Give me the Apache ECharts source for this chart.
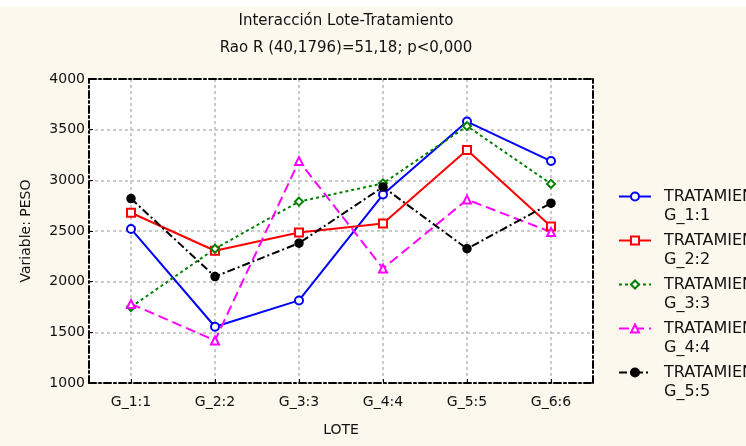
<!DOCTYPE html>
<html>
<head>
<meta charset="utf-8">
<script src="https://cdn.jsdelivr.net/npm/echarts@6/dist/echarts.min.js"></script>
<style>
html,body{margin:0;padding:0;background:#ffffff;}
#c{position:absolute;left:0;top:0;width:746px;height:446px;}
</style>
</head>
<body>
<div id="c"></div>
<script>
const categories = ['G_1:1','G_2:2','G_3:3','G_4:4','G_5:5','G_6:6'];
const seriesNames = ['TRATAMIENTO\nG_1:1','TRATAMIENTO\nG_2:2','TRATAMIENTO\nG_3:3','TRATAMIENTO\nG_4:4','TRATAMIENTO\nG_5:5'];
const g1 = [2520, 1555, 1815, 2860, 3580, 3190];
const g2 = [2680, 2305, 2485, 2575, 3300, 2545];
const g3 = [1750, 2325, 2790, 2970, 3535, 2965];
const g4 = [1780, 1420, 3190, 2130, 2810, 2490];
const g5 = [2820, 2050, 2380, 2935, 2325, 2775];
const yMin = 1000, yMax = 4000, yStep = 500;

const FONT = 'DejaVu Sans';
const frameStyle = {color:'#000', width:2, type:[7,3,2,3]};
const styles = [
  {color:'#0000ff', type:'solid', symbol:'emptyCircle'},
  {color:'#ff0000', type:'solid', symbol:'emptyRect'},
  {color:'#008000', type:[3,3], symbol:'emptyDiamond'},
  {color:'#ff00ff', type:[10,5], symbol:'emptyTriangle'},
  {color:'#000000', type:[8,3,2,3], symbol:'circle'}
];
const data = [g1,g2,g3,g4,g5];

const chart = echarts.init(document.getElementById('c'), null, {renderer:'canvas'});
chart.setOption({
  backgroundColor:'#fdf8ee',
  animation:false,
  graphic:[{type:'rect', left:0, top:0, shape:{width:746, height:7}, style:{fill:'#ffffff'}, z:-1}],
  title:{
    text:'Interacción Lote-Tratamiento\nRao R (40,1796)=51,18; p<0,000',
    left:341, top:3, textAlign:'center',
    textStyle:{fontFamily:FONT, fontSize:15, fontWeight:'normal', color:'#111', lineHeight:27}
  },
  grid:{left:89, right:153, top:79, bottom:63, show:true, backgroundColor:'#ffffff', borderWidth:0},
  legend:{
    orient:'vertical', left:618, top:168, padding:0, itemWidth:32, itemHeight:10, itemGap:-13,
    data:seriesNames,
    formatter:(name)=>' \n'+name,
    textStyle:{fontFamily:FONT, fontSize:16, color:'#111', lineHeight:19, padding:[0,0,0,8]}
  },
  xAxis:[{
    type:'category', data:categories, boundaryGap:true,
    name:'LOTE', nameLocation:'middle', nameGap:40,
    nameTextStyle:{fontFamily:FONT, fontSize:14, color:'#111'},
    axisLine:{lineStyle:frameStyle},
    axisTick:{show:true, alignWithLabel:true, length:-4, lineStyle:{color:'#000'}},
    axisLabel:{fontFamily:FONT, fontSize:14, color:'#111', margin:12},
    splitLine:{show:true, alignWithLabel:true, lineStyle:{color:'#bbbbbb', type:[3,3], width:1.5}}
  },{
    type:'category', data:categories, position:'top',
    axisLine:{lineStyle:frameStyle}, axisTick:{show:false}, axisLabel:{show:false}, splitLine:{show:false}
  }],
  yAxis:[{
    type:'value', min:yMin, max:yMax, interval:yStep,
    name:'Variable: PESO', nameLocation:'middle', nameGap:56,
    nameTextStyle:{fontFamily:FONT, fontSize:14, color:'#111'},
    axisLine:{show:true, lineStyle:frameStyle},
    axisTick:{show:true, length:-4, lineStyle:{color:'#000'}},
    axisLabel:{fontFamily:FONT, fontSize:14, color:'#111', margin:4, formatter:(v)=>String(v)},
    splitLine:{show:true, lineStyle:{color:'#bbbbbb', type:[3,3], width:1.5}}
  },{
    type:'value', min:yMin, max:yMax, interval:yStep, position:'right',
    axisLine:{show:true, lineStyle:frameStyle}, axisTick:{show:false}, axisLabel:{show:false}, splitLine:{show:false}
  }],
  series: data.map((d,i)=>({
    name:seriesNames[i], type:'line', data:d,
    symbol:styles[i].symbol, symbolSize:8, showAllSymbol:true,
    lineStyle:{color:styles[i].color, width:2, type:styles[i].type},
    itemStyle:{color:styles[i].color, borderColor:styles[i].color, borderWidth:1.5}
  }))
});
</script>
</body>
</html>
